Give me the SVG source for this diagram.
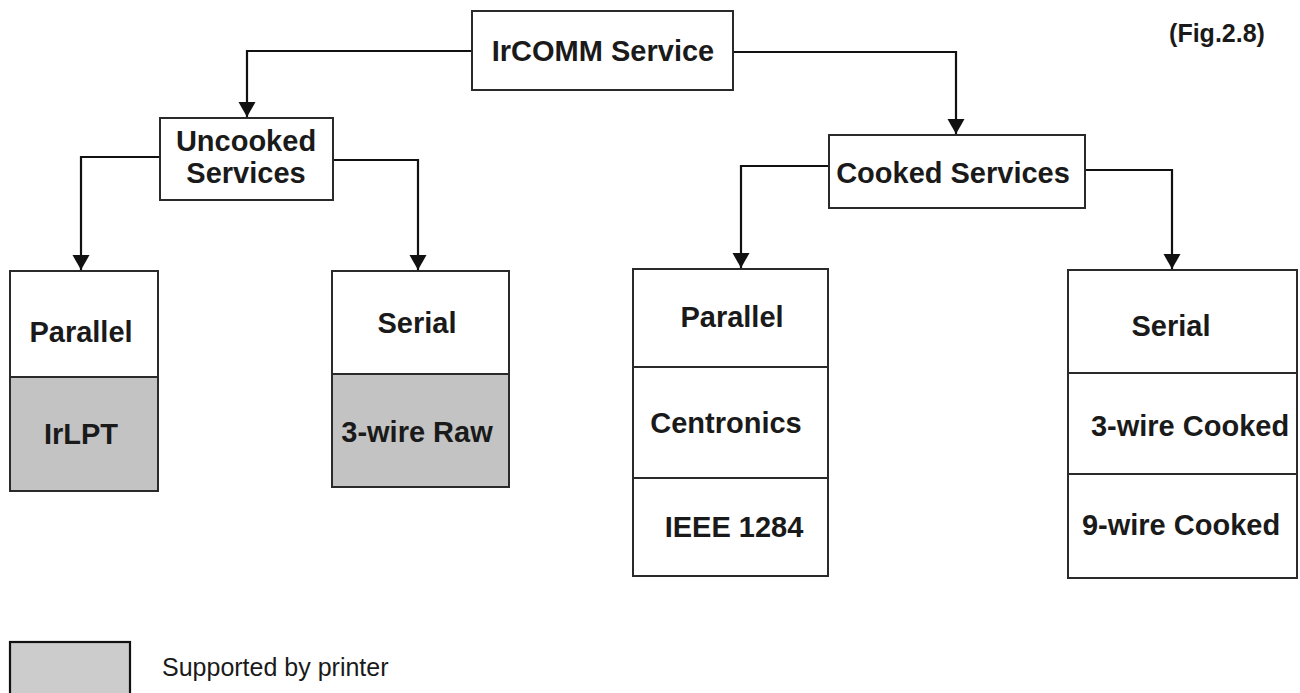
<svg xmlns="http://www.w3.org/2000/svg" width="1300" height="693" viewBox="0 0 1300 693">
  <style>
    .box { fill: #ffffff; stroke: #2a2a2a; stroke-width: 2; }
    .grey { fill: #c3c3c3; stroke: #2a2a2a; stroke-width: 2; }
    .div { stroke: #2a2a2a; stroke-width: 2; fill: none; }
    .lbl { font-family: "Liberation Sans", Arial, sans-serif; font-weight: bold; font-size: 29px; fill: #1a1a1a; text-anchor: middle; }
    .conn { fill: none; stroke: #111111; stroke-width: 2.2; marker-end: url(#arr); }
  </style>
  <defs>
    <marker id="arr" markerUnits="userSpaceOnUse" markerWidth="16" markerHeight="18" refX="15" refY="8.5" orient="auto">
      <path d="M0,0 L15,8.5 L0,17 z" fill="#111111"/>
    </marker>
  </defs>
  <rect width="1300" height="693" fill="#ffffff"/>

  <g id="connectors">
    <path class="conn" d="M472,51 H247 V117"/>
    <path class="conn" d="M733,52 H956 V134"/>
    <path class="conn" d="M160,157 H81 V270"/>
    <path class="conn" d="M333,160 H418 V270"/>
    <path class="conn" d="M829,166 H741 V268"/>
    <path class="conn" d="M1085,170 H1172 V269"/>
  </g>

  <g id="irc">
    <rect class="box" x="472" y="11" width="261" height="79"/>
    <text class="lbl" x="603" y="61">IrCOMM Service</text>
  </g>

  <g id="uncooked">
    <rect class="box" x="160" y="118" width="173" height="82"/>
    <text class="lbl" x="246" y="151">Uncooked</text>
    <text class="lbl" x="246" y="183">Services</text>
  </g>

  <g id="cooked">
    <rect class="box" x="829" y="135" width="256" height="73"/>
    <text class="lbl" x="953" y="183">Cooked Services</text>
  </g>

  <g id="unc-parallel">
    <rect class="box" x="10" y="271" width="148" height="106"/>
    <rect class="grey" x="10" y="377" width="148" height="114"/>
    <text class="lbl" x="81" y="342">Parallel</text>
    <text class="lbl" x="81" y="444">IrLPT</text>
  </g>

  <g id="unc-serial">
    <rect class="box" x="332" y="271" width="177" height="103"/>
    <rect class="grey" x="332" y="374" width="177" height="113"/>
    <text class="lbl" x="417" y="333">Serial</text>
    <text class="lbl" x="417" y="442">3-wire Raw</text>
  </g>

  <g id="ck-parallel">
    <rect class="box" x="633" y="269" width="195" height="307"/>
    <line class="div" x1="633" y1="367" x2="828" y2="367"/>
    <line class="div" x1="633" y1="478" x2="828" y2="478"/>
    <text class="lbl" x="732" y="327">Parallel</text>
    <text class="lbl" x="726" y="433">Centronics</text>
    <text class="lbl" x="734" y="537">IEEE 1284</text>
  </g>

  <g id="ck-serial">
    <rect class="box" x="1068" y="270" width="229" height="308"/>
    <line class="div" x1="1068" y1="373" x2="1297" y2="373"/>
    <line class="div" x1="1068" y1="474" x2="1297" y2="474"/>
    <text class="lbl" x="1171" y="336">Serial</text>
    <text class="lbl" x="1190" y="436">3-wire Cooked</text>
    <text class="lbl" x="1181" y="535">9-wire Cooked</text>
  </g>

  <g id="fig">
    <text x="1217" y="42" style="font-family:'Liberation Sans', Arial, sans-serif; font-weight:bold; font-size:25px; fill:#1a1a1a; text-anchor:middle;">(Fig.2.8)</text>
  </g>

  <g id="legend">
    <rect x="10" y="642" width="120" height="60" fill="#cccccc" stroke="#111111" stroke-width="2.2"/>
    <text x="162" y="676" style="font-family:'Liberation Sans', Arial, sans-serif; font-size:25px; fill:#1a1a1a;">Supported by printer</text>
  </g>
</svg>
